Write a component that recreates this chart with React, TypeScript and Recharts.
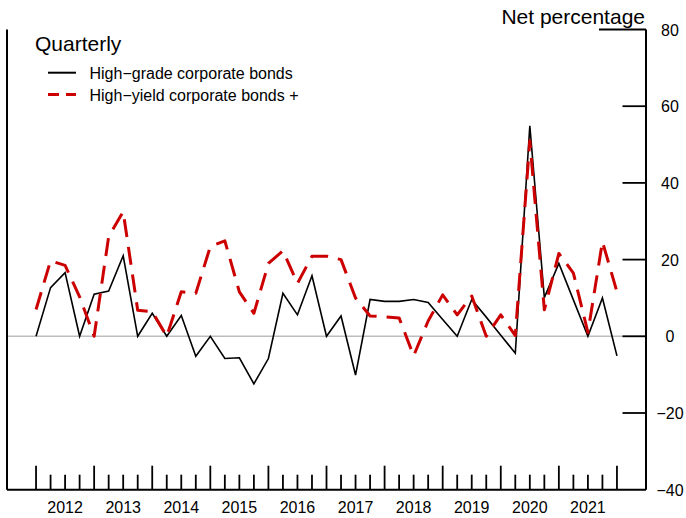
import React from 'react';
import { LineChart, Line, XAxis, YAxis, ReferenceLine } from 'recharts';

// quarters, 0 = 2012:Q1 ... 40 = 2022:Q1
const quarters = Array.from({ length: 41 }, (_, i) => i);
const years = ['2012', '2013', '2014', '2015', '2016', '2017', '2018', '2019', '2020', '2021'];
const highGrade = [
  0, 12.7, 16.6, 0, 11.0, 11.8, 21.0, 0, 6.0, 0, 5.4, -5.2, 0, -5.8, -5.6, -12.4, -5.8, 11.2, 5.6, 15.8,
  0, 5.3, -10.1, 9.6, 9.1, 9.1, 9.6, 8.8, 4.4, 0, 9.6, 5.0, 0.3, -4.4, 54.9, 10.1, 19.0, 9.5, 0, 10.0, -5.1,
];
const highYield = [
  7.0, 19.7, 18.5, 10.3, 0, 26.0, 32.5, 6.8, 6.4, 0, 11.6, 11.2, 23.4, 24.9, 11.6, 6.0, 19.0, 22.3, 13.8, 20.9,
  20.9, 20.0, 10.0, 5.3, 5.1, 4.8, -5.1, 4.0, 10.8, 5.6, 10.5, 0, 5.6, 0.2, 51.0, 6.9, 21.6, 16.5, 1.0, 24.7, 11.6,
];
const yTicks = [-40, -20, 0, 20, 40, 60, 80];

const data = quarters.map((q, i) => ({ q, hg: highGrade[i], hy: highYield[i] }));

const FONT = '"Liberation Sans", Arial, Helvetica, sans-serif';
const RED = '#cc0000';

const fmt = (v: number) => (v < 0 ? '\u2212' + Math.abs(v) : String(v));

const XTick = (props: any) => {
  const { x, y, payload } = props;
  const q = payload.value as number;
  const long = q % 4 === 0;
  const label = q % 4 === 2 ? years[(q - 2) / 4] : null;
  return (
    <g>
      <line x1={x} x2={x} y1={y} y2={y - (long ? 24 : 15)} stroke="#000" strokeWidth={1.8} />
      {label && (
        <text x={x} y={y + 23.5} textAnchor="middle" fontSize={16} fontFamily={FONT} fill="#000">
          {label}
        </text>
      )}
    </g>
  );
};

const RightTick = (props: any) => {
  const { x, y, payload } = props;
  const v = payload.value as number;
  const len = v === 80 ? 47 : 23.5;
  return (
    <g>
      {v !== -40 && <line x1={x - len} x2={x} y1={y} y2={y} stroke="#000" strokeWidth={1.8} />}
      <text x={x + 24} y={y + 6} textAnchor="middle" fontSize={16} fontFamily={FONT} fill="#000">
        {fmt(v)}
      </text>
    </g>
  );
};

const LeftTick = (props: any) => {
  const { x, y, payload } = props;
  const v = payload.value as number;
  if (v === -40) return <g />;
  const len = v === 80 ? 45 : 24;
  return <line x1={x} x2={x + len} y1={y} y2={y} stroke="#000" strokeWidth={1.8} />;
};

export default function App() {
  return (
    <div style={{ position: 'relative', width: 686, height: 518, background: '#fff' }}>
      <style>{'body{margin:0}'}</style>
      <LineChart width={686} height={518} data={data} margin={{ top: 29.5, right: 0, bottom: 0.3, left: 0 }}>
        <XAxis
          dataKey="q"
          type="number"
          domain={[-2, 42]}
          ticks={quarters}
          interval={0}
          allowDataOverflow
          height={28}
          tickSize={0}
          tickMargin={0}
          tickLine={false}
          axisLine={{ stroke: '#000', strokeWidth: 2 }}
          tick={<XTick />}
        />
        <YAxis
          yAxisId="l"
          orientation="left"
          width={7}
          domain={[-40, 80]}
          ticks={yTicks}
          interval={0}
          tickSize={0}
          tickMargin={0}
          tickLine={false}
          axisLine={{ stroke: '#000', strokeWidth: 2 }}
          tick={<LeftTick />}
        />
        <YAxis
          yAxisId="r"
          orientation="right"
          width={40}
          domain={[-40, 80]}
          ticks={yTicks}
          interval={0}
          tickSize={0}
          tickMargin={0}
          tickLine={false}
          axisLine={{ stroke: '#000', strokeWidth: 2 }}
          tick={<RightTick />}
        />
        <ReferenceLine yAxisId="r" y={0} stroke="#bdbdbd" strokeWidth={1.6} />
        <Line
          yAxisId="r"
          type="linear"
          dataKey="hg"
          stroke="#000"
          strokeWidth={1.6}
          dot={false}
          isAnimationActive={false}
        />
        <Line
          yAxisId="r"
          type="linear"
          dataKey="hy"
          stroke={RED}
          strokeWidth={3}
          strokeDasharray="18 10"
          strokeLinejoin="round"
          dot={false}
          isAnimationActive={false}
        />
      </LineChart>
      <svg
        width={686}
        height={518}
        style={{ position: 'absolute', left: 0, top: 0, pointerEvents: 'none' }}
        fontFamily={FONT}
      >
        <text x={645} y={24} textAnchor="end" fontSize={21}>Net percentage</text>
        <text x={35} y={51} fontSize={21}>Quarterly</text>
        <line x1={48} x2={76} y1={72.7} y2={72.7} stroke="#000" strokeWidth={2} />
        <text x={89.5} y={78.5} fontSize={16}>{'High\u2212grade corporate bonds'}</text>
        <line x1={48} x2={76} y1={94.5} y2={94.5} stroke={RED} strokeWidth={3} strokeDasharray="11 7" />
        <text x={89.5} y={100.5} fontSize={16}>{'High\u2212yield corporate bonds +'}</text>
      </svg>
    </div>
  );
}
